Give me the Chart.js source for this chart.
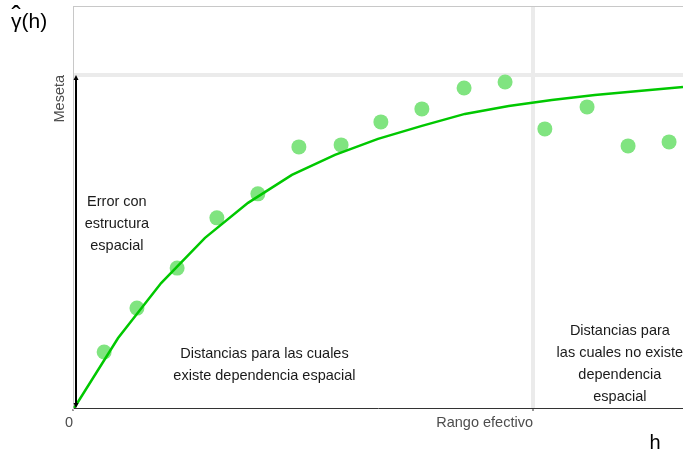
<!DOCTYPE html>
<html>
<head>
<meta charset="utf-8">
<script src="https://cdn.jsdelivr.net/npm/chart.js@4"></script>
<style>
  html, body { margin: 0; padding: 0; background: #fff; }
  #wrap { width: 683px; height: 457px; }
</style>
</head>
<body>
<div id="wrap"><canvas id="variogram"></canvas></div>
<script>
const lagDistance = [0.76, 1.56, 2.54, 3.51, 4.51, 5.51, 6.54, 7.51, 8.51, 9.54, 10.54, 11.51, 12.54, 13.54, 14.54];
const semivariance = [0.168, 0.300, 0.420, 0.571, 0.643, 0.784, 0.790, 0.859, 0.898, 0.961, 0.979, 0.838, 0.904, 0.787, 0.799];

// fitted model curve vertices
const modelDistance = [0.03, 1.10, 2.15, 3.22, 4.27, 5.34, 6.39, 7.44, 8.51, 9.56, 10.63, 11.68, 12.73, 13.80, 14.88];
const modelValues = [0.000, 0.210, 0.375, 0.511, 0.616, 0.700, 0.760, 0.808, 0.847, 0.883, 0.907, 0.925, 0.940, 0.952, 0.964];

const sill = 1;
const effectiveRange = 11.22;
const xTickValues = [0, effectiveRange];
const xTickLabels = ['0', 'Rango efectivo'];
const yTickValues = [sill];
const yTickLabels = ['Meseta'];

const FONT = "'Liberation Sans', Arial, sans-serif";

// text notes: [x, y, lines]
const notes = [
  [1.07, 0.553, ['Error con', 'estructura', 'espacial']],
  [4.67, 0.129, ['Distancias para las cuales', 'existe dependencia espacial']],
  [13.34, 0.132, ['Distancias para', 'las cuales no existe', 'dependencia', 'espacial']]
];

function noPadding(s) {
  s.paddingTop = 0;
  s.paddingBottom = 0;
  s.paddingLeft = 0;
  s.paddingRight = 0;
}

const extras = {
  id: 'extras',
  afterDatasetsDraw(chart) {
    const { ctx, chartArea, scales: { x, y } } = chart;
    ctx.save();
    // top border of the panel
    ctx.strokeStyle = '#c8c8c8';
    ctx.lineWidth = 1;
    ctx.beginPath();
    ctx.moveTo(chartArea.left, chartArea.top + 0.5);
    ctx.lineTo(chartArea.right, chartArea.top + 0.5);
    ctx.stroke();

    // double-headed arrow from 0 to the sill
    const ax = x.getPixelForValue(0) + 3;
    const y0 = y.getPixelForValue(0);
    const y1 = y.getPixelForValue(sill);
    ctx.strokeStyle = '#000';
    ctx.fillStyle = '#000';
    ctx.lineWidth = 2;
    ctx.beginPath();
    ctx.moveTo(ax, y0 - 3);
    ctx.lineTo(ax, y1 + 3);
    ctx.stroke();
    ctx.beginPath();
    ctx.moveTo(ax, y1);
    ctx.lineTo(ax - 2.5, y1 + 5);
    ctx.lineTo(ax + 2.5, y1 + 5);
    ctx.closePath();
    ctx.fill();
    ctx.beginPath();
    ctx.moveTo(ax, y0);
    ctx.lineTo(ax - 2.5, y0 - 5);
    ctx.lineTo(ax + 2.5, y0 - 5);
    ctx.closePath();
    ctx.fill();

    // notes
    ctx.fillStyle = '#1a1a1a';
    ctx.font = '14.5px ' + FONT;
    ctx.textAlign = 'center';
    ctx.textBaseline = 'middle';
    notes.forEach(([nx, ny, lines]) => {
      const px = x.getPixelForValue(nx);
      const py = y.getPixelForValue(ny);
      const lh = 22;
      lines.forEach((t, i) => {
        ctx.fillText(t, px, py + (i - (lines.length - 1) / 2) * lh);
      });
    });

    // axis titles
    ctx.fillStyle = '#000';
    ctx.textBaseline = 'alphabetic';
    ctx.font = '20px ' + FONT;
    ctx.textAlign = 'center';
    ctx.fillText('h', 655, 449);
    ctx.font = '21px ' + FONT;
    ctx.textAlign = 'left';
    ctx.fillText('\u03B3(h)', 11, 28);
    const gw = ctx.measureText('\u03B3').width;
    ctx.textAlign = 'center';
    ctx.font = '28px ' + FONT;
    ctx.fillText('\u02C6', 11 + gw / 2, 25);
    ctx.restore();
  }
};

const ctx = document.getElementById('variogram').getContext('2d');
new Chart(ctx, {
  type: 'scatter',
  data: {
    datasets: [
      {
        label: 'Modelo',
        data: modelDistance.map((d, i) => ({ x: d, y: modelValues[i] })),
        showLine: true,
        borderColor: 'rgb(0, 200, 0)',
        borderWidth: 2.5,
        pointRadius: 0,
        tension: 0
      },
      {
        label: 'Semivariograma empírico',
        data: lagDistance.map((d, i) => ({ x: d, y: semivariance[i] })),
        backgroundColor: 'rgb(128, 228, 128)',
        borderWidth: 0,
        pointRadius: 7.5
      }
    ]
  },
  options: {
    responsive: true,
    maintainAspectRatio: false,
    animation: false,
    events: [],
    layout: { autoPadding: false, padding: { top: 6, right: 0, left: 0, bottom: 0 } },
    plugins: { legend: { display: false }, tooltip: { enabled: false } },
    scales: {
      x: {
        type: 'linear',
        min: 0,
        max: 14.88,
        afterBuildTicks: s => { s.ticks = xTickValues.map(v => ({ value: v })); },
        afterFit: s => { s.height = 49; noPadding(s); },
        ticks: {
          autoSkip: false,
          maxRotation: 0,
          align: 'end',
          padding: 3,
          color: '#4d4d4d',
          font: { family: FONT, size: 14.5 },
          callback: (v, i) => xTickLabels[i]
        },
        grid: {
          color: c => (c.tick && c.tick.value === effectiveRange ? '#ebebeb' : 'rgba(0,0,0,0)'),
          lineWidth: 4,
          drawTicks: true,
          tickLength: 3,
          tickColor: '#333',
          tickWidth: 1
        },
        border: { display: true, color: '#333', width: 1 }
      },
      y: {
        type: 'linear',
        min: 0,
        max: 1.207,
        afterBuildTicks: s => { s.ticks = yTickValues.map(v => ({ value: v })); },
        afterFit: s => { s.width = 73; noPadding(s); },
        ticks: {
          autoSkip: false,
          minRotation: 90,
          maxRotation: 90,
          padding: 13,
          color: '#4d4d4d',
          font: { family: FONT, size: 14.5 },
          callback: (v, i) => yTickLabels[i]
        },
        grid: {
          color: '#ebebeb',
          lineWidth: 4,
          drawTicks: false
        },
        border: { display: true, color: '#c8c8c8', width: 1 }
      }
    }
  },
  plugins: [extras]
});
</script>
</body>
</html>
